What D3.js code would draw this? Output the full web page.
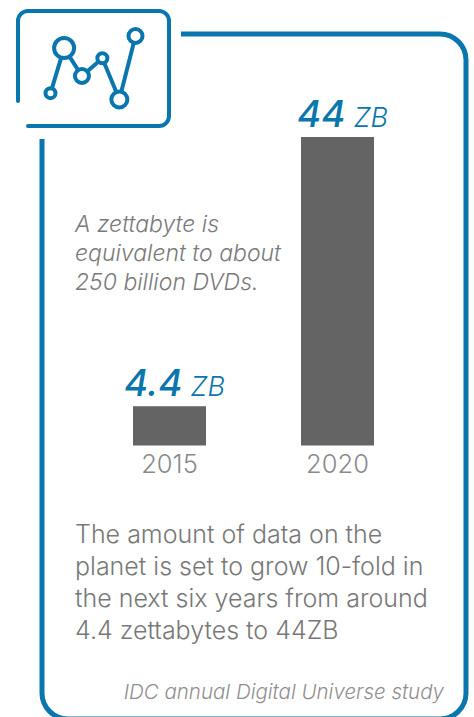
<!DOCTYPE html>
<html><head><meta charset="utf-8">
<script src="https://cdn.jsdelivr.net/npm/d3@7/dist/d3.min.js"></script>
<style>html,body{margin:0;padding:0;background:#fff;overflow:hidden}svg{display:block}text{font-family:Inter,"Open Sans",sans-serif}</style>
</head><body><svg id="c" width="474" height="717"></svg>
<script>
const years = ["2015","2020"];
const barHeights = [5.6, 44];           // bar lengths as drawn
const valueLabels = ["4.4","44"];
const unitLabel = "ZB";
const noteLines = ["A zettabyte is","equivalent to about","250 billion DVDs."];
const bodyLines = ["The amount of data on the","planet is set to grow 10-fold in","the next six years from around","4.4 zettabytes to 44ZB"];
const sourceText = "IDC annual Digital Universe study";
const iconXs = [0,16,37,61,81,100];
const iconYs = [90,19,63,35,100,0];
const iconRadii = [5,10,7,5,8,7];
const blue="#0a76ae", grey="#646464";

const svg=d3.select("#c");
const x=d3.scalePoint().domain(years).range([169.5,337.5]);
const y=d3.scaleLinear().domain([0,44]).range([445.5,137]);
const barW=73;

// frame
const p=d3.path();
p.moveTo(181,34); p.lineTo(440,34); p.arcTo(466,34,466,60,26);
p.lineTo(466,693); p.arcTo(466,719,440,719,26);
p.lineTo(68,719); p.arcTo(42,719,42,693,26); p.lineTo(42,139);
svg.append("path").attr("d",p.toString()).attr("fill","none").attr("stroke",blue).attr("stroke-width",5);

// icon box
const q=d3.path();
q.moveTo(18,101); q.lineTo(18,21); q.arcTo(18,11,28,11,10);
q.lineTo(159,11); q.arcTo(169,11,169,21,10); q.lineTo(169,116);
q.arcTo(169,126,159,126,10); q.lineTo(28,126);
svg.append("path").attr("d",q.toString()).attr("fill","none").attr("stroke",blue).attr("stroke-width",4).attr("stroke-linecap","round");

// icon line
const ix=d3.scaleLinear().domain([0,100]).range([50.5,135.5]);
const iy=d3.scaleLinear().domain([0,100]).range([36,99.5]);
const pts=iconXs.map((d,i)=>[ix(d),iy(iconYs[i]),iconRadii[i]]);
svg.append("path").attr("d",d3.line()(pts.map(d=>[d[0],d[1]]))).attr("fill","none").attr("stroke",blue).attr("stroke-width",4);
svg.selectAll("circle.i").data(pts).join("circle").attr("class","i")
 .attr("cx",d=>d[0]).attr("cy",d=>d[1]).attr("r",d=>d[2]).attr("fill","#fff").attr("stroke",blue).attr("stroke-width",4);

// bars
svg.selectAll("rect.b").data(years).join("rect").attr("class","b")
 .attr("x",d=>x(d)-barW/2).attr("width",barW)
 .attr("y",(d,i)=>y(barHeights[i])).attr("height",(d,i)=>y(0)-y(barHeights[i])).attr("fill",grey);

// year labels
svg.selectAll("text.yr").data(years).join("text").attr("class","yr")
 .attr("x",d=>x(d)).attr("y",473).attr("text-anchor","middle")
 .attr("font-size",25.5).attr("fill","#8a8a8a").attr("font-weight",300).text(d=>d);

// value labels
years.forEach((yr,i)=>{
 const t=svg.append("text").attr("x",x(yr)+5).attr("y",y(barHeights[i])-10).attr("text-anchor","middle").attr("fill",blue).attr("font-style","italic");
 t.append("tspan").attr("font-size",37).attr("font-weight",500).text(valueLabels[i]);
 t.append("tspan").attr("font-size",27).attr("font-weight",300).attr("dx",8).text(unitLabel);
});

// note
svg.selectAll("text.n").data(noteLines).join("text").attr("class","n")
 .attr("x",75).attr("y",(d,i)=>232+i*29).attr("font-size",23).attr("font-style","italic").attr("font-weight",300).attr("fill","#7a7a7a").text(d=>d);

// body
svg.selectAll("text.t").data(bodyLines).join("text").attr("class","t")
 .attr("x",75).attr("y",(d,i)=>543+i*32).attr("font-size",25).attr("font-weight",300).attr("fill","#787878").text(d=>d);

// source
svg.append("text").attr("x",444).attr("y",699).attr("text-anchor","end").attr("font-size",20.5).attr("font-style","italic").attr("font-weight",300).attr("fill","#8f8f8f").text(sourceText);
</script></body></html>
